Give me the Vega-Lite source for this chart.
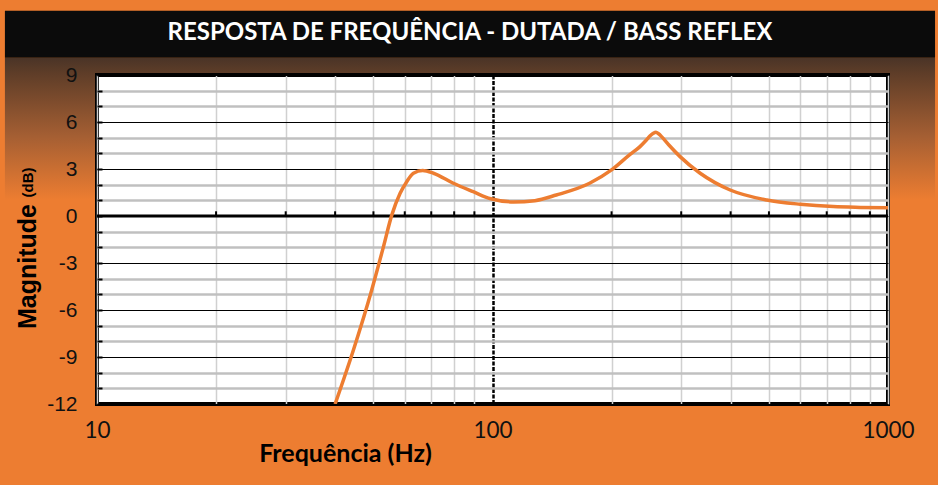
{
  "$schema": "https://vega.github.io/schema/vega-lite/v6.json",
  "background": "#ED7D31",
  "autosize": {"type": "none"},
  "padding": {"left": 97, "top": 75, "right": 50, "bottom": 81},
  "width": 791,
  "height": 329,
  "view": {"fill": "white", "stroke": "black", "strokeWidth": 4},
  "resolve": {"axis": {"y": "independent"}},
  "layer": [
    {
      "layer": [
        {
          "data": {"values": [{"f": 10, "db": -12}, {"f": 1000, "db": 9}]},
          "mark": {"type": "point", "opacity": 0},
          "encoding": {
            "x": {
              "field": "f",
              "type": "quantitative",
              "scale": {"type": "log", "domain": [10, 1000], "nice": false},
              "axis": {
                "values": [10, 20, 30, 40, 50, 60, 70, 80, 90, 100, 200, 300, 400, 500, 600, 700, 800, 900, 1000],
                "tickCount": 40,
                "labelExpr": "datum.value === 10 || datum.value === 100 || datum.value === 1000 ? '' + datum.value : ''",
                "grid": true,
                "gridColor": {"condition": {"test": "datum.value === 100", "value": "#000000"}, "value": "#d0d0d0"},
                "gridWidth": {"condition": {"test": "datum.value === 100", "value": 2.5}, "value": 1.5},
                "gridDash": {"condition": {"test": "datum.value === 100", "value": [4, 1.5]}, "value": []},
                "domain": false,
                "ticks": false,
                "labelFont": "Lato",
                "labelFontSize": 22.5,
                "labelColor": "#111111",
                "labelPadding": 15,
                "labelFlush": false,
                "labelOverlap": false,
                "title": "Frequência (Hz)",
                "titleFont": "Lato",
                "titleFontSize": 25,
                "titleFontWeight": "bold",
                "titleColor": "black",
                "titleX": 248,
                "titleY": 49,
                "titleAlign": "center",
                "titleBaseline": "middle"
              }
            },
            "y": {
              "field": "db",
              "type": "quantitative",
              "scale": {"domain": [-12, 9], "nice": false, "zero": false},
              "axis": {
                "orient": "left",
                "values": [-12, -11, -10, -9, -8, -7, -6, -5, -4, -3, -2, -1, 0, 1, 2, 3, 4, 5, 6, 7, 8, 9],
                "tickCount": 40,
                "grid": true,
                "gridColor": {"condition": {"test": "datum.value % 3 === 0", "value": "#000000"}, "value": "#c0c0c0"},
                "gridWidth": {"condition": {"test": "datum.value % 3 === 0", "value": 1.2}, "value": 2.5},
                "domain": false,
                "ticks": false,
                "labels": false,
                "title": null,
                "zindex": 0
              }
            }
          }
        },
        {
          "data": {"values": [{}]},
          "mark": {"type": "rect", "clip": false, "color": {"gradient": "linear", "x1": 0, "y1": 0, "x2": 0, "y2": 1, "stops": [{"offset": 0, "color": "#4a3427"}, {"offset": 1, "color": "#5e3d28"}]}},
          "encoding": {
            "x": {"datum": 5.85, "type": "quantitative"},
            "x2": {"datum": 1315},
            "y": {"datum": 10.1, "type": "quantitative"},
            "y2": {"datum": 9.128}
          }
        },
        {
          "data": {"values": [{}]},
          "mark": {"type": "rect", "clip": false, "color": {"gradient": "linear", "x1": 0, "y1": 0, "x2": 0, "y2": 1, "stops": [{"offset": 0, "color": "#5e3d28"}, {"offset": 0.5, "color": "#a55f33"}, {"offset": 1, "color": "#ED7D31"}]}},
          "encoding": {
            "x": {"datum": 5.85, "type": "quantitative"},
            "x2": {"datum": 9.884},
            "y": {"datum": 9.128, "type": "quantitative"},
            "y2": {"datum": 1.02}
          }
        },
        {
          "data": {"values": [{}]},
          "mark": {"type": "rect", "clip": false, "color": {"gradient": "linear", "x1": 0, "y1": 0, "x2": 0, "y2": 1, "stops": [{"offset": 0, "color": "#5e3d28"}, {"offset": 0.5, "color": "#a55f33"}, {"offset": 1, "color": "#ED7D31"}]}},
          "encoding": {
            "x": {"datum": 1011.7, "type": "quantitative"},
            "x2": {"datum": 1315},
            "y": {"datum": 9.128, "type": "quantitative"},
            "y2": {"datum": 1.02}
          }
        },
        {
          "data": {"values": [{}]},
          "mark": {"type": "rect", "color": "#0b0b0b", "clip": false},
          "encoding": {
            "x": {"datum": 5.85, "type": "quantitative"},
            "x2": {"datum": 1315},
            "y": {"datum": 13.1, "type": "quantitative"},
            "y2": {"datum": 10.1}
          }
        },
        {
          "data": {"values": [{}]},
          "mark": {"type": "text", "font": "Lato", "fontWeight": "bold", "fontSize": 24, "color": "white", "align": "center", "baseline": "middle", "clip": false},
          "encoding": {
            "x": {"datum": 87.7, "type": "quantitative"},
            "y": {"datum": 11.68, "type": "quantitative"},
            "text": {"datum": "RESPOSTA DE FREQUÊNCIA - DUTADA / BASS REFLEX"}
          }
        },
        {
          "data": {"values": [{"db": 0}]},
          "mark": {"type": "rule", "color": "black", "strokeWidth": 3},
          "encoding": {
            "y": {"field": "db", "type": "quantitative"}
          }
        },
        {
          "data": {"values": [{"f": 20}, {"f": 30}, {"f": 40}, {"f": 50}, {"f": 60}, {"f": 70}, {"f": 80}, {"f": 90}, {"f": 200}, {"f": 300}, {"f": 400}, {"f": 500}, {"f": 600}, {"f": 700}, {"f": 800}, {"f": 900}]},
          "mark": {"type": "rule", "color": "black", "strokeWidth": 2},
          "encoding": {
            "x": {"field": "f", "type": "quantitative"},
            "y": {"datum": 0, "type": "quantitative"},
            "y2": {"datum": 0.3}
          }
        },
        {
          "data": {"values": [
            {"f": 40, "db": -12}, {"f": 44.5, "db": -8.55}, {"f": 49.5, "db": -4.72}, {"f": 53, "db": -1.96},
            {"f": 55.6, "db": 0.04}, {"f": 58.4, "db": 1.45}, {"f": 60.7, "db": 2.19}, {"f": 63.1, "db": 2.73},
            {"f": 66.6, "db": 2.9}, {"f": 70.9, "db": 2.73}, {"f": 79.6, "db": 2.09}, {"f": 89.4, "db": 1.55},
            {"f": 99, "db": 1.1}, {"f": 113, "db": 0.9}, {"f": 128, "db": 0.98}, {"f": 145, "db": 1.34},
            {"f": 176, "db": 2.09}, {"f": 200, "db": 2.94}, {"f": 222, "db": 3.9}, {"f": 236, "db": 4.43},
            {"f": 245, "db": 4.85}, {"f": 250, "db": 5.1}, {"f": 255, "db": 5.28}, {"f": 259, "db": 5.35},
            {"f": 263, "db": 5.25}, {"f": 268, "db": 5.05}, {"f": 280, "db": 4.5}, {"f": 298, "db": 3.79},
            {"f": 335, "db": 2.73}, {"f": 399, "db": 1.66}, {"f": 494, "db": 1.02}, {"f": 600, "db": 0.75},
            {"f": 727, "db": 0.6}, {"f": 850, "db": 0.55}, {"f": 1000, "db": 0.52}
          ]},
          "mark": {"type": "line", "color": "#ED7D31", "strokeWidth": 3.5, "interpolate": "monotone", "clip": true},
          "encoding": {
            "x": {"field": "f", "type": "quantitative"},
            "y": {"field": "db", "type": "quantitative"}
          }
        }
      ]
    },
    {
      "layer": [
        {
          "data": {"values": [{"db": -12}, {"db": 9}]},
          "mark": {"type": "point", "opacity": 0},
          "encoding": {
            "y": {
              "field": "db",
              "type": "quantitative",
              "axis": {
                "orient": "left",
                "values": [-12, -11, -10, -9, -8, -7, -6, -5, -4, -3, -2, -1, 0, 1, 2, 3, 4, 5, 6, 7, 8, 9],
                "tickCount": 40,
                "labelExpr": "datum.value % 3 === 0 ? '' + datum.value : ''",
                "labelOverlap": false,
                "labelFlush": false,
                "grid": false,
                "domain": false,
                "ticks": true,
                "tickSize": -5,
                "tickWidth": 2,
                "tickColor": "black",
                "labelFont": "Liberation Sans",
                "labelFontSize": 21,
                "labelColor": "#111111",
                "labelPadding": 25,
                "title": "Magnitude",
                "titleFont": "Liberation Sans",
                "titleFontSize": 25,
                "titleFontWeight": "bold",
                "titleColor": "black",
                "titleX": -70,
                "titleY": 191,
                "titleAlign": "center",
                "titleBaseline": "middle",
                "titleAngle": -90,
                "zindex": 1
              }
            }
          }
        },
        {
          "data": {"values": [{}]},
          "mark": {"type": "text", "font": "Liberation Sans", "fontWeight": "bold", "fontSize": 15, "color": "black", "align": "center", "baseline": "middle", "angle": 270, "clip": false},
          "encoding": {
            "x": {"datum": 6.7, "type": "quantitative"},
            "y": {"datum": 2.14, "type": "quantitative"},
            "text": {"datum": "(dB)"}
          }
        }
      ]
    }
  ]
}
